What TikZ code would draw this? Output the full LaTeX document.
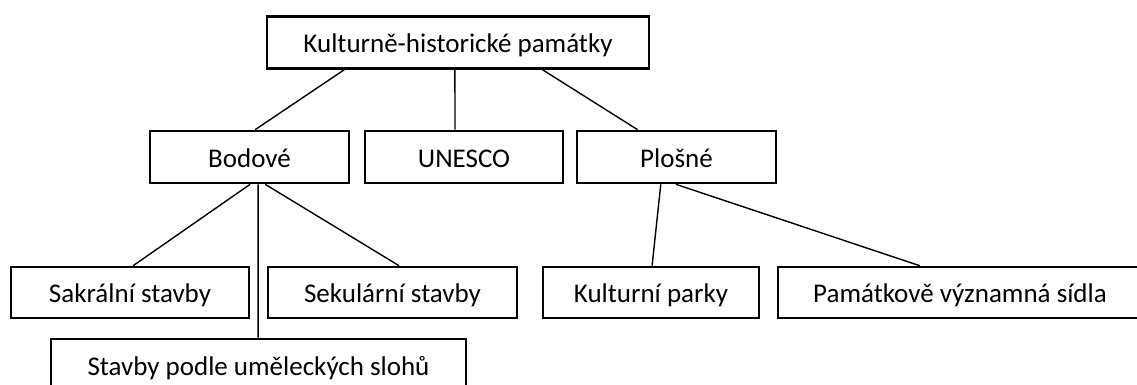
\documentclass[tikz,border=0pt]{standalone}
\usepackage{fontspec}
\setmainfont{Carlito}
\usetikzlibrary{calc}

\begin{document}
\begin{tikzpicture}[x=1pt,y=-1pt,
  box/.style={draw,line width=2.6pt,minimum height=52pt,inner sep=0pt,
              text height=25pt,text depth=5pt,font=\fontsize{27}{32}\selectfont},
  link/.style={line width=1.4pt},
]
\useasboundingbox (0,0) rectangle (1137,385);
% top level
\node[box,minimum width=382pt] (top) at (458,42.5) {Kulturně-historické památky};
% middle row
\node[box,minimum width=199pt] (bod) at (249.5,157) {Bodové};
\node[box,minimum width=198pt] (une) at (464,157) {UNESCO};
\node[box,minimum width=199pt] (plo) at (676.5,157) {Plošné};
% bottom row
\node[box,minimum width=238pt,minimum height=51pt] (sak) at (130,292.5) {Sakrální stavby};
\node[box,minimum width=249pt,minimum height=51pt] (sek) at (392.5,292.5) {Sekulární stavby};
\node[box,minimum width=216pt,minimum height=51pt] (kul) at (651,292.5) {Kulturní parky};
\node[box,minimum width=364pt,minimum height=51pt] (pam) at (960,292.5) {Památkově významná sídla};
\node[box,minimum width=415pt] (slo) at (258.5,365) {Stavby podle uměleckých slohů};
% connectors
\draw[link] ($(top.south west)!0.204!(top.south east)$) -- ($(bod.north west)!0.528!(bod.north east)$);
\draw[link] ($(top.south west)!0.492!(top.south east)$) -- ($(une.north west)!0.455!(une.north east)$);
\draw[link] ($(top.south west)!0.72!(top.south east)$) -- ($(plo.north west)!0.307!(plo.north east)$);
\draw[link] ($(bod.south west)!0.503!(bod.south east)$) -- ($(sak.north west)!0.513!(sak.north east)$);
\draw[link] ($(bod.south west)!0.578!(bod.south east)$) -- ($(sek.north west)!0.526!(sek.north east)$);
\draw[link] ($(bod.south west)!0.543!(bod.south east)$) -- ($(slo.north west)!0.499!(slo.north east)$);
\draw[link] ($(plo.south west)!0.422!(plo.south east)$) -- ($(kul.north west)!0.505!(kul.north east)$);
\draw[link] ($(plo.south west)!0.497!(plo.south east)$) -- ($(pam.north west)!0.39!(pam.north east)$);
\end{tikzpicture}
\end{document}
